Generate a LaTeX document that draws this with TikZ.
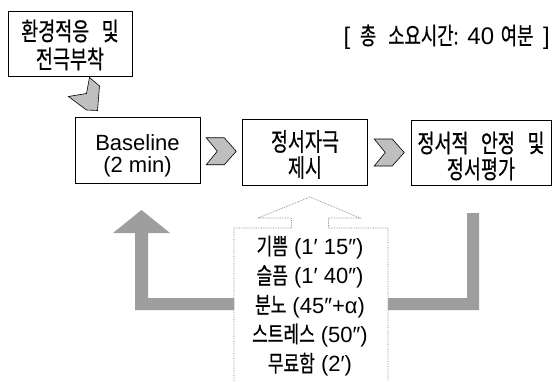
\documentclass[tikz,border=0pt]{standalone}
\usepackage{fontspec}
\setmainfont{Liberation Sans}
\newfontfamily\kr[FakeStretch=0.74,FakeBold=0.6,WordSpace=3]{Noto Sans CJK KR}
\usetikzlibrary{calc}
\begin{document}
\begin{tikzpicture}[x=1pt,y=-1pt,
  box/.style={draw=black,line width=0.8pt,inner sep=0pt},
  boxtext/.style={inner sep=0pt,align=center},
  krbig/.style={font=\kr\fontsize{25}{26}\selectfont},
  latbig/.style={font=\fontsize{22}{21.5}\selectfont},
  chevshape/.style={draw=black,line width=0.6pt,fill=black!25},
  bar/.style={fill=black!38},
  callout/.style={draw=black!50,line width=0.7pt,densely dotted},
  chev/.pic={\path[chevshape] (-15,-13.5) -- (3,-13.5) -- (15,0) -- (3,13.5) -- (-15,13.5) -- (-4,0) -- cycle;}
]
\useasboundingbox (0,0) rectangle (555,381);

% boxes
\node[box,minimum width=124pt,minimum height=65pt] (env) at (70,43.5) {};
\node[box,minimum width=125pt,minimum height=66pt] (base) at (137.5,150.5) {};
\node[box,minimum width=125pt,minimum height=66pt] (stim) at (305,152) {};
\node[box,minimum width=140pt,minimum height=65pt] (eval) at (481,153) {};

% box texts
\node[boxtext,font=\kr\fontsize{25}{28}\selectfont] (envt) at ($(env.center)+(0,1.5)$) {환경적응 및\\전극부착};
\node[boxtext,latbig] (baset) at ($(base.center)+(0,5.5)$) {Baseline\\(2 min)};
\node[boxtext,krbig] (stimt) at ($(stim.center)+(0,2.5)$) {정서자극\\제시};
\node[boxtext,krbig] (evalt) at ($(eval.center)+(0,3)$) {정서적 안정 및\\정서평가};

% title
\node[anchor=east,inner sep=0pt,font=\fontsize{24}{26}\selectfont] (title) at (550,37)
  {[\hspace{3pt} {\kr\fontsize{24}{26}\selectfont 총 소요시간:} 40 {\kr\fontsize{24}{26}\selectfont 여분}\hspace{3pt} ]};

% chevrons between boxes
\pic (c1) at ($(base.east)!0.5!(stim.west)$) {chev};
\pic (c2) at ($(stim.east)!0.5!(eval.west)$) {chev};

% slanted chevron from env to base
\coordinate (d1) at (89.5,77.5);
\coordinate (d2) at (99.5,86);
\coordinate (d3) at (97.5,110.5);
\coordinate (d4) at (86.5,110);
\coordinate (d5) at (68.5,96.5);
\coordinate (d6) at (86.5,93.5);
\path[chevshape] (d1) -- (d2) -- (d3) -- (d4) -- (d5) -- (d6) -- cycle;

% stimulus list callout
\coordinate (cb1) at (234,381);
\coordinate (cb2) at (234,228);
\coordinate (cb3) at (291.5,228);
\coordinate (cb4) at (291.5,218);
\coordinate (cb5) at (258,218);
\coordinate (ctip) at (310,197);
\coordinate (cb6) at (360,218);
\coordinate (cb7) at (328.5,218);
\coordinate (cb8) at (328.5,228);
\coordinate (cb9) at (388,228);
\coordinate (cb10) at (388,381);
\draw[callout] (cb1) -- (cb2) -- (cb3) -- (cb4) -- (cb5) -- (ctip) -- (cb6) -- (cb7) -- (cb8) -- (cb9) -- (cb10);

\node[align=center,inner sep=0pt,font=\fontsize{22}{29.3}\selectfont] (list) at (310,306)
  {{\kr\fontsize{23}{29.3}\selectfont 기쁨} (1′ 15″)\\
   {\kr\fontsize{23}{29.3}\selectfont 슬픔} (1′ 40″)\\
   {\kr\fontsize{23}{29.3}\selectfont 분노} (45″+α)\\
   {\kr\fontsize{23}{29.3}\selectfont 스트레스} (50″)\\
   {\kr\fontsize{23}{29.3}\selectfont 무료함} (2′)};

% gray return arrow (eval -> down -> around -> up to base)
\coordinate (r1) at (388,298);
\coordinate (r2) at (467,298);
\coordinate (r3) at (467,213);
\coordinate (r4) at (479,213);
\coordinate (r5) at (479,310);
\coordinate (r6) at (388,310);
\fill[bar] (r1) -- (r2) -- (r3) -- (r4) -- (r5) -- (r6) -- cycle;

\coordinate (l1) at (234,310);
\coordinate (l2) at (135,310);
\coordinate (l3) at (135,233);
\coordinate (l4) at (113,233);
\coordinate (ltip) at (141.5,210);
\coordinate (l5) at (170,233);
\coordinate (l6) at (148,233);
\coordinate (l7) at (148,298);
\coordinate (l8) at (234,298);
\fill[bar] (l1) -- (l2) -- (l3) -- (l4) -- (ltip) -- (l5) -- (l6) -- (l7) -- (l8) -- cycle;
\end{tikzpicture}
\end{document}
